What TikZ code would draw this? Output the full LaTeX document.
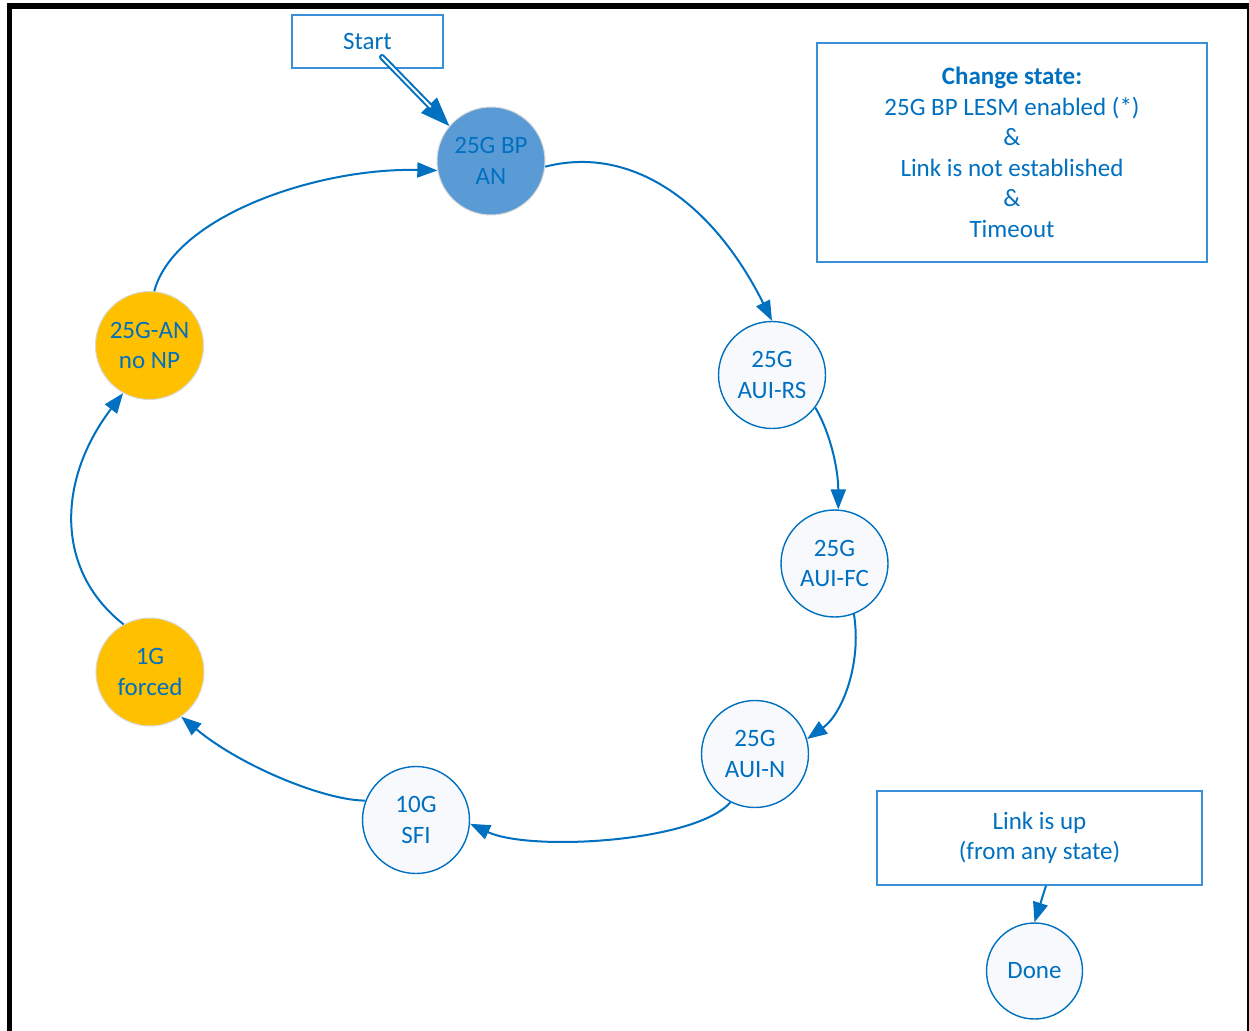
\documentclass[tikz,border=0pt]{standalone}
\usepackage{fontspec}
\setmainfont{Carlito}
\usetikzlibrary{arrows.meta}
\definecolor{tblue}{HTML}{0070C0}
\definecolor{boxblue}{HTML}{3A8FD9}
\definecolor{bpfill}{HTML}{5B9BD5}
\definecolor{yfill}{HTML}{FFC000}
\definecolor{cfill}{RGB}{247,249,253}
\begin{document}
\begin{tikzpicture}[x=1pt,y=-1pt,
  font=\fontsize{25}{30.5}\selectfont,
  every node/.style={text=tblue, align=center},
  state/.style={circle, draw=tblue, line width=1.4pt, fill=cfill, minimum size=107pt, inner sep=0pt},
  hot/.style={circle, draw=black!15, line width=1pt, fill=#1, minimum size=108pt, inner sep=0pt},
  infobox/.style={draw=boxblue, line width=1.2pt, fill=white, inner sep=0pt},
  conn/.style={draw=tblue, line width=2pt, -{Triangle[length=20pt,width=15pt]}},
]
\useasboundingbox (0,0) rectangle (1249,1030);
\fill[white] (0,0) rectangle (1249,1030);
\draw[line width=5.5pt, black] (9.5,1035) -- (9.5,6) -- (1249.5,6) -- (1249.5,1035);

\node[infobox, minimum width=151pt, minimum height=53pt] (start) at (367.5,41.5) {Start};
\node[infobox, minimum width=390pt, minimum height=219pt] (cond) at (1012,152.5) {\textbf{Change state:}\\25G BP LESM enabled (*)\\\&\\Link is not established\\\&\\Timeout};
\node[infobox, minimum width=325pt, minimum height=94pt] (link) at (1039.5,838) {Link is up\\(from any state)};

\node[hot=bpfill] (bp) at (491,161) {25G BP\\AN};
\node[state] (rs) at (772,375) {25G\\AUI-RS};
\node[state] (fc) at (834.5,563.5) {25G\\AUI-FC};
\node[state] (aun) at (755,754) {25G\\AUI-N};
\node[state] (sfi) at (416,820) {10G\\SFI};
\node[hot=yfill] (g1) at (150,672) {1G\\forced};
\node[hot=yfill] (an) at (149.5,345.5) {25G-AN\\no NP};
\node[state, minimum size=96pt] (done) at (1034.5,971) {Done};

\coordinate (s0) at (382,57);
\draw[draw=tblue, fill=tblue, line width=0.5pt, -{Triangle[length=29pt,width=22pt]}] (s0) -- (bp.140);
\draw[tblue, line width=6pt, line cap=round, shorten >=27pt] (s0) -- (bp.140);
\draw[white, line width=2pt, line cap=round, shorten >=27pt] (s0) -- (bp.140);

\draw[conn] (bp.-6) .. controls +(85,-22) and +(-60,-120) .. (rs.north);
\draw[conn] (rs.-37) .. controls +(15,25) and +(0,-40) .. (fc.86);
\draw[conn] (fc.-69) .. controls +(8,50) and +(35,-25) .. (aun.16);
\draw[conn] (aun.-117) .. controls +(-35,40) and +(60,28) .. (sfi.-4);
\draw[conn] (sfi.159) .. controls +(-40,0) and +(60,50) .. (g1.-55);
\draw[conn] (g1.119) .. controls +(-70,-55) and +(-65,85) .. (an.-119);
\draw[conn] (an.85) .. controls +(20,-75) and +(-120,-3) .. (bp.-170);
\draw[conn] ([xshift=6.5pt]link.south) -- (done.north);
\end{tikzpicture}
\end{document}
